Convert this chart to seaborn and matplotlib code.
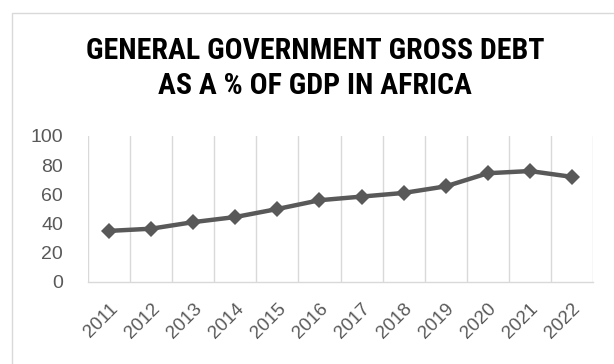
import matplotlib
matplotlib.use("Agg")
import matplotlib.pyplot as plt
from matplotlib.patches import Rectangle
import seaborn as sns
import pandas as pd

# data
years = ['2011', '2012', '2013', '2014', '2015', '2016',
         '2017', '2018', '2019', '2020', '2021', '2022']
debt_pct = [35, 36.5, 41, 44.5, 50, 56, 58.5, 61, 65.5, 74.5, 76, 72]
y_ticks = [0, 20, 40, 60, 80, 100]
title_lines = ['GENERAL GOVERNMENT GROSS DEBT', 'AS A % OF GDP IN AFRICA']

df = pd.DataFrame({'year': years, 'debt': debt_pct})

sns.set_theme(style='white')
plt.rcParams['font.family'] = ['Liberation Sans', 'DejaVu Sans']

fig = plt.figure(figsize=(6.14, 3.64), dpi=100)
ax = fig.add_axes([88 / 614, 1 - 282 / 364, (593 - 88) / 614, (282 - 136) / 364])

grey = '#595959'
sns.lineplot(data=df, x='year', y='debt', ax=ax, sort=False, color=grey,
             linewidth=3.2, marker='D', markersize=8, markeredgewidth=0)

ax.set_xlim(-0.5, len(years) - 0.5)
ax.set_ylim(0, 100)
ax.set_yticks(y_ticks)
ax.set_xlabel('')
ax.set_ylabel('')

# vertical gridlines between categories (Excel style)
ax.set_xticks([i - 0.5 for i in range(len(years) + 1)], minor=True)
ax.grid(False)
ax.grid(True, which='minor', axis='x', color='#d9d9d9', linewidth=1)
ax.tick_params(which='both', length=0)
ax.tick_params(axis='y', labelsize=14, labelcolor=grey, pad=18)
ax.tick_params(axis='x', labelsize=13.5, labelcolor=grey, pad=13)
for lbl in ax.get_xticklabels():
    lbl.set_rotation(45)
    lbl.set_ha('right')
    lbl.set_rotation_mode('anchor')

for side in ['top', 'left', 'right']:
    ax.spines[side].set_visible(False)
ax.spines['bottom'].set_color('#d9d9d9')
ax.spines['bottom'].set_linewidth(1)

# chart border
fig.patches.append(Rectangle((12 / 614, -0.1), 1.2, 1 - 13 / 364 + 0.1,
                             transform=fig.transFigure, fill=False,
                             edgecolor='#d9d9d9', linewidth=1))

title_font = ['Roboto Condensed', 'Noto Sans', 'DejaVu Sans']
for i, line in enumerate(title_lines):
    fig.text(315 / 614, 1 - (51 + 35 * i) / 364, line, ha='center', va='center',
             fontsize=21.5, fontweight='bold', fontstretch='extra-condensed',
             family=title_font, color='black')

fig.savefig('out.png', dpi=100)
